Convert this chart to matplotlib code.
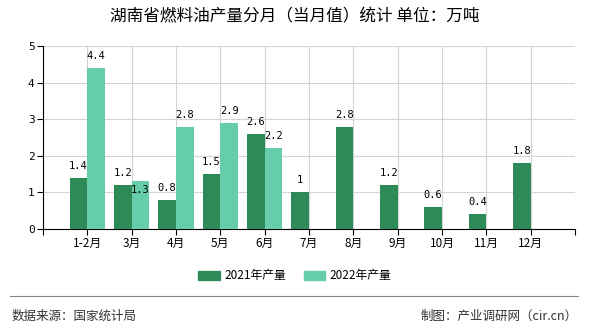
import matplotlib.pyplot as plt
from matplotlib.lines import Line2D
from matplotlib.patches import Patch

plt.rcParams['font.family'] = ['Noto Sans CJK SC', 'DejaVu Sans']

months = ["1-2月", "3月", "4月", "5月", "6月", "7月", "8月", "9月", "10月", "11月", "12月"]
output_2021 = [1.4, 1.2, 0.8, 1.5, 2.6, 1, 2.8, 1.2, 0.6, 0.4, 1.8]
output_2022 = [4.4, 1.3, 2.8, 2.9, 2.2]
labels_2021 = ["1.4", "1.2", "0.8", "1.5", "2.6", "1", "2.8", "1.2", "0.6", "0.4", "1.8"]
labels_2022 = ["4.4", "1.3", "2.8", "2.9", "2.2"]

c2021 = "#2e8b57"
c2022 = "#66cdaa"

fig = plt.figure(figsize=(5.9, 3.3), dpi=100)
ax = fig.add_axes([43 / 590, 1 - 229 / 330, (575 - 43) / 590, (229 - 46) / 330])

w = 0.4
x1 = [i + 1 - w / 2 for i in range(len(output_2021))]
x2 = [i + 1 + w / 2 for i in range(len(output_2022))]
ax.bar(x1, output_2021, width=w, color=c2021, zorder=3)
ax.bar(x2, output_2022, width=w, color=c2022, zorder=3)

for x, v, t in zip(x1, output_2021, labels_2021):
    ax.annotate(t, (x, v), xytext=(0, 9), textcoords="offset pixels", ha="center",
                va="baseline", fontsize=7.5, family="DejaVu Sans Mono", zorder=4)
for i, (x, v, t) in enumerate(zip(x2, output_2022, labels_2022)):
    # the 3月 label was pushed down to avoid the 2021 one
    dy = -12 if i == 1 else 9
    ax.annotate(t, (x, v), xytext=(0, dy), textcoords="offset pixels", ha="center",
                va="baseline", fontsize=7.5, family="DejaVu Sans Mono", zorder=4)

ax.set_xlim(0, 12)
ax.set_ylim(0, 5)
ax.set_xticks(range(0, 13))
ax.set_xticklabels([""] + months + [""], fontsize=8.5)
ax.set_yticks(range(0, 6))
ax.set_yticklabels([str(i) for i in range(6)], fontsize=8, family="DejaVu Sans Mono")
ax.grid(True, color="#d4d4d4", linewidth=0.8, zorder=0)
for s in ["top", "right"]:
    ax.spines[s].set_visible(False)
ax.spines["left"].set_color("black")
ax.spines["bottom"].set_color("black")
ax.tick_params(axis="both", length=4, width=0.8, color="black", pad=2)

fig.text(0.5, 1 - 17 / 330, "湖南省燃料油产量分月（当月值）统计 单位：万吨",
         ha="center", va="center", fontsize=12)

handles = [Patch(color=c2021, label="2021年产量"), Patch(color=c2022, label="2022年产量")]
fig.legend(handles=handles, loc="center", bbox_to_anchor=(0.5, 1 - 276 / 330), ncol=2,
           frameon=False, fontsize=8.5, handlelength=1.8, handleheight=0.8, columnspacing=1.5,
           handletextpad=0.4)

fig.add_artist(Line2D([10 / 590, 578 / 590], [1 - 296 / 330, 1 - 296 / 330],
                      color="#888888", linewidth=0.8))
fig.text(12 / 590, 1 - 316 / 330, "数据来源：国家统计局", ha="left", va="center",
         fontsize=9, color="#333333")
fig.text(578 / 590, 1 - 316 / 330, "制图：产业调研网（cir.cn）", ha="right", va="center",
         fontsize=9, color="#333333")

fig.savefig("out.png", dpi=100)
